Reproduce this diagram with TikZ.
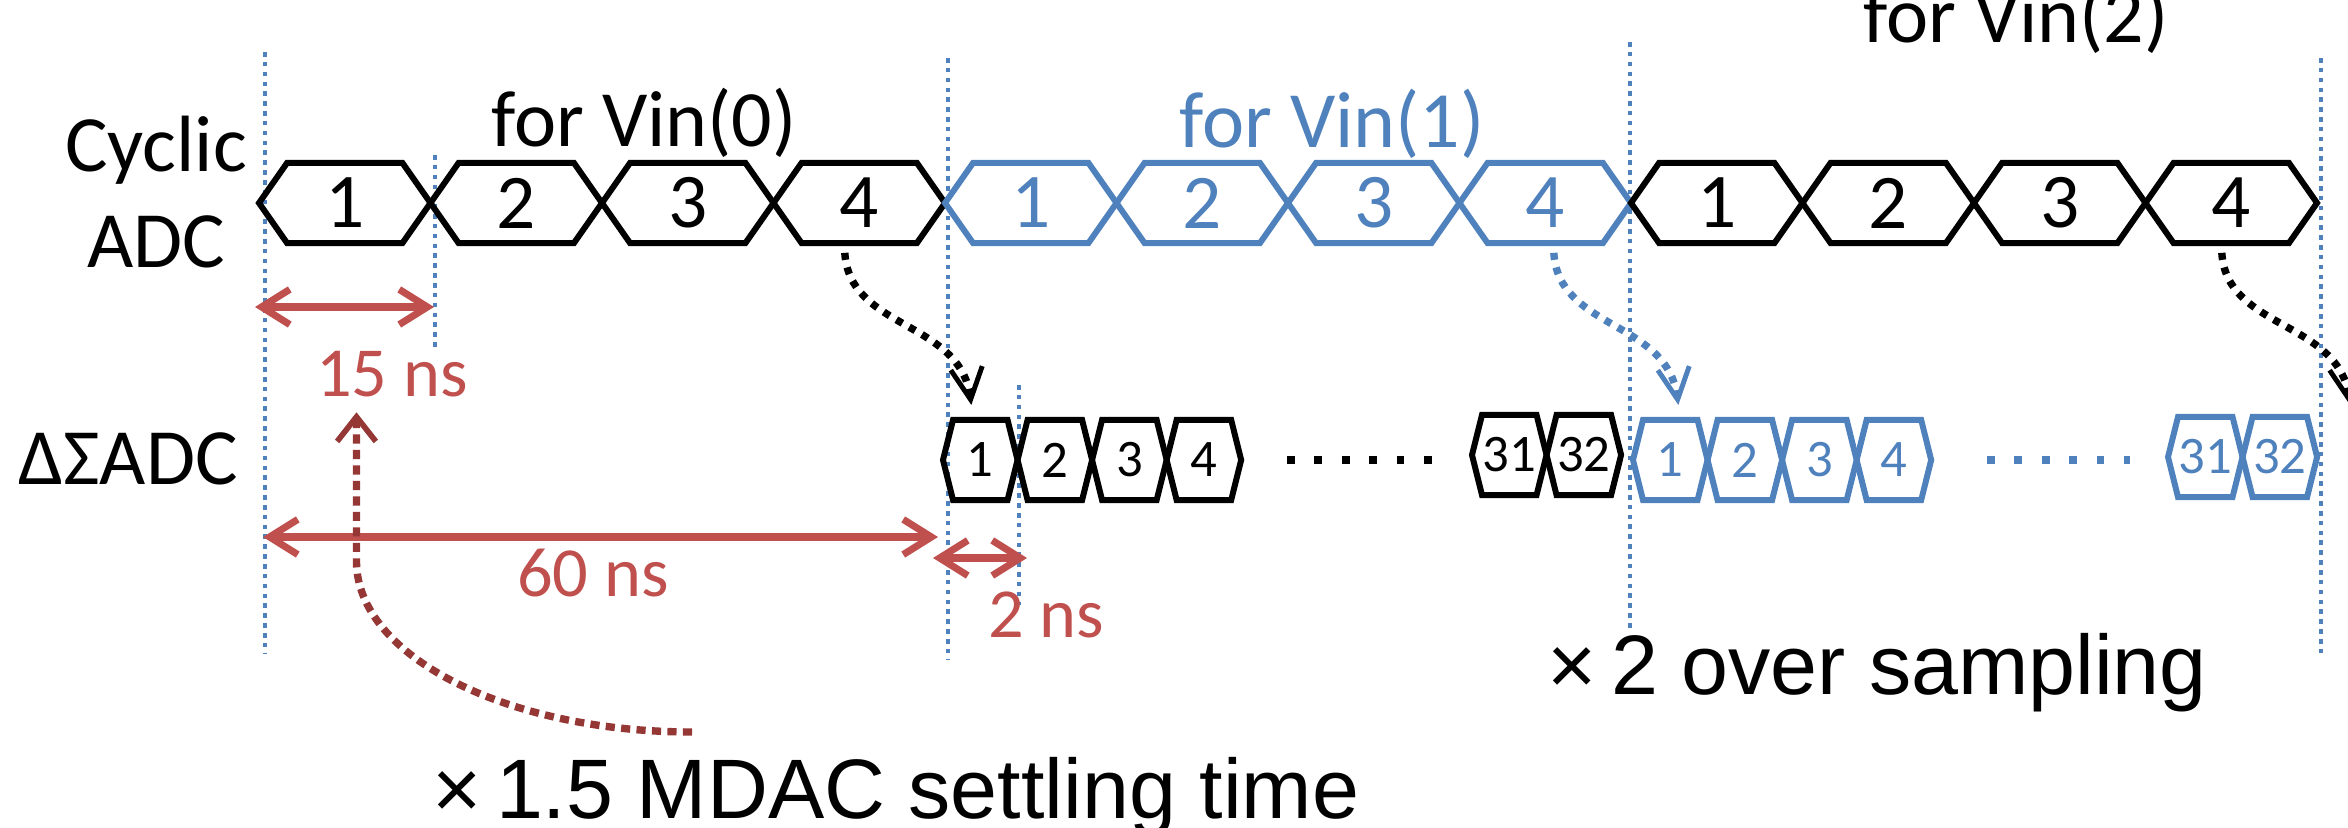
\documentclass[tikz,border=0pt]{standalone}
\usepackage{fontspec}
\setmainfont{Carlito}
\newfontfamily\arialfont{Liberation Sans}
\usetikzlibrary{arrows.meta,positioning,shapes.symbols}
\definecolor{vinblue}{HTML}{4F81BD}
\definecolor{dimred}{HTML}{C0504D}
\definecolor{settlered}{HTML}{953735}

\begin{document}
\begin{tikzpicture}[x=0.01cm,y=-0.01cm,
    lbl/.style={inner sep=0,font=\fontsize{22.7}{27}\selectfont},
    cyc/.style={draw,signal,signal to=east and west,signal pointer angle=110,
      minimum width=1.714cm,minimum height=0.8cm,inner sep=0,outer sep=0,line width=1.7pt,
      font=\fontsize{22}{26}\selectfont},
    dsm/.style={draw,signal,signal to=east and west,signal pointer angle=152,
      minimum width=0.745cm,minimum height=0.8cm,inner sep=0,outer sep=0,line width=1.7pt,
      font=\fontsize{15}{18}\selectfont},
    guide/.style={vinblue,line width=1.25pt,dash pattern=on 1.3pt off 1.5pt},
    dim/.style={dimred,line width=2pt,>={Straight Barb[length=8pt,width=10pt]},<->},
    dimlbl/.style={dimred,inner sep=0,font=\fontsize{20}{24}\selectfont},
    feed/.style={line width=2.1pt,dash pattern=on 2pt off 2.2pt,shorten <=2.8pt,shorten >=4.3pt,
      -{Straight Barb[length=9pt,width=9pt,line width=1.4pt]}},
    settle/.style={settlered,line width=2.1pt,dash pattern=on 2.6pt off 1.8pt,shorten >=4pt,
      -{Straight Barb[length=7pt,width=11pt,line width=1.6pt]}},
    dotrow/.style={line width=2.2pt,dash pattern=on 2.2pt off 5.6pt},
    note/.style={inner sep=0,anchor=base west,font=\arialfont\fontsize{24}{28}\selectfont}]
\useasboundingbox (0,0) rectangle (2348,828);

\foreach \gx/\gt/\gb in {265/52/653,435/155/350,948/58/660,1019/385/605,1630/42/632,2321/58/658}
  \draw[guide] (\gx,\gt) -- (\gx,\gb);

\node[lbl,anchor=base] (cyclbl) at (156,172) {Cyclic};
\node[lbl,anchor=base] (adclbl) at (156,268) {ADC};
\node[lbl,anchor=base] (dslbl) at (128,485) {ΔΣADC};

\node[cyc,anchor=west] (c1) at (259,203) {1};
\foreach \i/\n/\col in {2/2/black,3/3/black,4/4/black,5/1/vinblue,6/2/vinblue,7/3/vinblue,
    8/4/vinblue,9/1/black,10/2/black,11/3/black,12/4/black}{
  \pgfmathtruncatemacro\prev{\i-1}
  \node[cyc,color=\col,right=0pt of c\prev] (c\i) {\n};
}

\node[lbl,anchor=base] (vin0) at (644,147) {for Vin(0)};
\node[lbl,anchor=base,vinblue] (vin1) at (1332,148) {for Vin(1)};
\node[lbl,anchor=base] (vin2) at (2016,43) {for Vin(2)};

\node[dsm,anchor=west] (d1) at (943,460) {1};
\node[dsm,color=vinblue,anchor=west] (e1) at (1633,460) {1};
\foreach \i in {2,3,4}{
  \pgfmathtruncatemacro\prev{\i-1}
  \node[dsm,right=0pt of d\prev] (d\i) {\i};
  \node[dsm,color=vinblue,right=0pt of e\prev] (e\i) {\i};
}
\node[dsm,anchor=west] (d31) at (1472,455) {31};
\node[dsm,right=0pt of d31] (d32) {32};
\node[dsm,color=vinblue,anchor=west] (e31) at (2168,457) {31};
\node[dsm,color=vinblue,right=0pt of e31] (e32) {32};
\draw[dotrow] (1287,460) -- (1432,460);
\draw[dotrow,vinblue] (1987,460) -- (2130,460);

\coordinate (nextds) at (2352,420);
\draw[feed] ([xshift=-0.15cm]c4.south) .. controls +(5,87) and +(-13,-100) .. ([xshift=-0.07cm]d1.north);
\draw[feed,vinblue] ([xshift=0.08cm]c8.south) .. controls +(5,87) and +(-13,-100) .. ([xshift=0.1cm]e1.north);
\draw[feed] ([xshift=-0.1cm]c12.south) .. controls +(5,87) and +(-13,-100) .. (nextds);

\draw[dim] (255,307) -- (434,307);
\draw[dim] (263,537) -- (938,537);
\draw[dim] (933,558) -- (1027,558);
\node[dimlbl,anchor=base] (t15) at (392,397) {15 ns};
\node[dimlbl,anchor=base] (t60) at (593,597) {60 ns};
\node[dimlbl,anchor=base] (t2) at (1046,638) {2 ns};

\node[note] (mdaclbl) at (432,818) {×\hspace{4pt}1.5 MDAC settling time};
\node[note] (oslbl) at (1547,695) {×\hspace{4pt}2 over sampling};

\coordinate (mdac) at (692,732);
\coordinate (bend) at ([xshift=0.41cm,yshift=-1.63cm]t15.south west);
\draw[settle] (mdac) .. controls +(-185,0) and +(0,95) .. (bend) -- (bend |- t15.south);
\end{tikzpicture}
\end{document}
